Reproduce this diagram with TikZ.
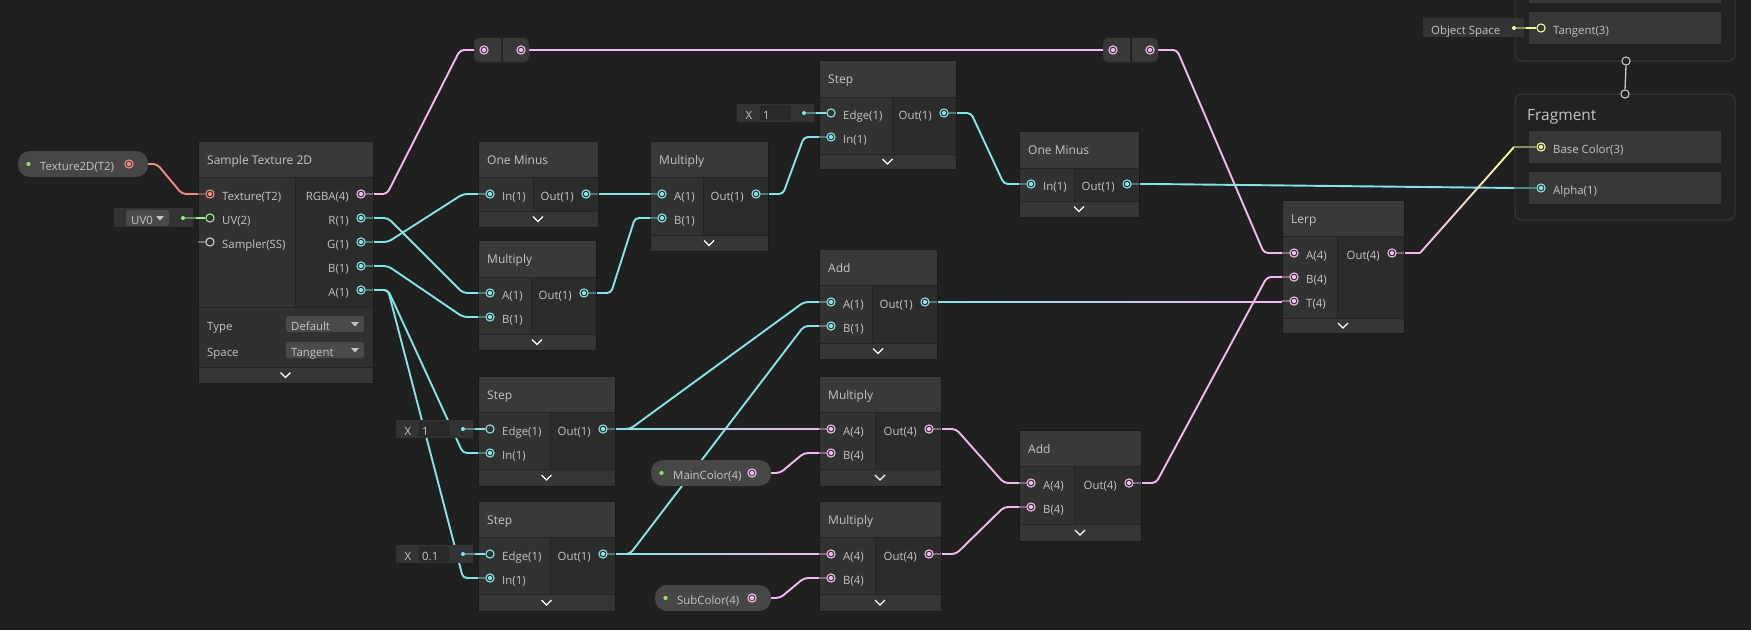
\documentclass[tikz,border=0pt]{standalone}
\usepackage{fontspec}
\setmainfont{Open Sans}
\usetikzlibrary{calc}
\pgfdeclarelayer{back}
\pgfdeclarelayer{wires}
\pgfsetlayers{back,wires,main}
\definecolor{bg}{HTML}{202020}
\definecolor{hdr}{HTML}{393939}
\definecolor{incol}{HTML}{323232}
\definecolor{outcol}{HTML}{2C2C2C}
\definecolor{lowcol}{HTML}{303030}
\definecolor{ftr}{HTML}{363636}
\definecolor{divc}{HTML}{242424}
\definecolor{framec}{HTML}{1A1A1A}
\definecolor{txt}{HTML}{C4C4C4}
\definecolor{cy}{HTML}{84E4E7}
\definecolor{pk}{HTML}{F4B9EE}
\definecolor{rd}{HTML}{F28A86}
\definecolor{gn}{HTML}{9CEB8C}
\definecolor{yl}{HTML}{F4FB9C}
\definecolor{smp}{HTML}{D0D0D0}
\definecolor{pillc}{HTML}{474747}
\definecolor{widc}{HTML}{333333}
\definecolor{fieldc}{HTML}{2A2A2A}
\definecolor{ddc}{HTML}{4A4A4A}
\definecolor{dotg}{HTML}{8FE35F}
\definecolor{blk}{HTML}{222222}
\definecolor{blkb}{HTML}{3A3A3A}
\definecolor{rowc}{HTML}{383838}
\definecolor{conc}{HTML}{C8C8C8}

\tikzset{
  lbl/.style={inner sep=0pt, text=txt, font=\fontsize{11.4}{13}\selectfont, text height=12pt, text depth=0pt},
  ttl/.style={inner sep=0pt, text=txt, font=\fontsize{12}{14}\selectfont, text height=10pt, text depth=0pt, anchor=west},
  ring/.style={circle, draw=#1, line width=1.1pt, minimum size=8.2pt, inner sep=0pt},
  wire/.style={line width=1.9pt, rounded corners=4pt},
  stubw/.style={line width=1.6pt},
  boxnode/.style={inner sep=0pt, outer sep=0pt},
}

% box: name, x1, y1, x2, y2, header bottom, left col x, footer top, title
\newcommand\sgbox[9]{%
  \node[boxnode, minimum width={(#4-#2)*1pt}, minimum height={(#5-#3)*1pt}] (#1) at ({(#2+#4)/2},{(#3+#5)/2}) {};
  \fill[incol] (#2,#6) rectangle (#7,#8);
  \fill[outcol] (#7,#6) rectangle (#4,#8);
  \fill[hdr] (#2,#3) rectangle (#4,#6);
  \fill[ftr] (#2,#8) rectangle (#4,#5);
  \draw[divc, line width=1pt] (#2,#6) -- (#4,#6) (#2,#8) -- (#4,#8) (#7,#6) -- (#7,#8);
  \node[ttl] at (#2+9,{(#3+#6)/2}) {#9};
  \draw[white, line width=1.3pt] ({(#2+#4)/2-5},{(#8+#5)/2-2.5}) -- ({(#2+#4)/2},{(#8+#5)/2+2.5}) -- ({(#2+#4)/2+5},{(#8+#5)/2-2.5});
  \draw[framec, line width=1pt] (#2,#3) rectangle (#4,#5);
}
% input port: name, x, y, color, filled, label
\newcommand\inp[6]{%
  \draw[stubw, #4!40!incol] (#2-12,#3) -- (#2-4,#3);
  \node[ring=#4] (#1) at (#2,#3) {};
  \ifnum#5=1 \fill[#4] (#1.center) circle (2.1pt);\fi
  \node[lbl, anchor=west] at (#2+12,#3) {#6};
}
% output port: name, x, y, color, label
\newcommand\outp[5]{%
  \draw[stubw, #4!40!outcol] (#2+4,#3) -- (#2+12,#3);
  \node[ring=#4] (#1) at (#2,#3) {};
  \fill[#4] (#1.center) circle (2.1pt);
  \node[lbl, anchor=east] at (#2-12,#3) {#5};
}
% X value widget: dot name, x1, y1, value
\newcommand\xwid[4]{%
  \fill[widc] (#2,#3) rectangle (#2+77,#3+18);
  \node[lbl, anchor=center] at (#2+12,#3+9) {X};
  \draw[fill=fieldc, draw=framec, rounded corners=2pt] (#2+23,#3+2) rectangle (#2+53,#3+16);
  \node[lbl, anchor=west] at (#2+26,#3+9) {#4};
  \node[circle, fill=cy, inner sep=0pt, minimum size=4pt] (#1) at (#2+67,#3+9) {};
}
% property pill: name, x1, y1, x2, label, port name, port x, port colour
\newcommand\pill[8]{%
  \node[boxnode, fill=pillc, rounded corners=12pt, minimum width={(#4-#2)*1pt}, minimum height=26pt] (#1) at ({(#2+#4)/2},#3+13) {};
  \fill[dotg] (#2+10.5,#3+13) circle (2.1pt);
  \node[lbl, anchor=west] at (#2+22,#3+13) {#5};
  \node[ring=#8] (#6) at (#7,#3+13) {};
  \fill[#8] (#6.center) circle (2.1pt);
}
% redirect: name, x1, in name, out name
\newcommand\redir[4]{%
  \node[boxnode, fill=hdr, rounded corners=5pt, minimum width=55pt, minimum height=24pt] (#1) at (#2+27.5,50) {};
  \draw[divc, line width=1.2pt] (#2+28,38) -- (#2+28,62);
  \node[ring=pk] (#3) at (#2+10,50) {}; \fill[pk] (#3.center) circle (2.1pt);
  \node[ring=pk] (#4) at (#2+47,50) {}; \fill[pk] (#4.center) circle (2.1pt);
}
% dropdown: name, x1, y1, x2, text
\newcommand\ddown[5]{%
  \node[boxnode, fill=ddc, rounded corners=2.5pt, minimum width={(#4-#2)*1pt}, minimum height=16pt] (#1) at ({(#2+#4)/2},#3+8) {};
  \node[lbl, anchor=west] at (#2+5,#3+8) {#5};
  \fill[txt] (#4-13,#3+6) -- (#4-5,#3+6) -- (#4-9,#3+10.5) -- cycle;
}
\newcommand\wire[3]{\draw[wire,#1] ([xshift=12pt]#2.center) -- ++(15,0) -- ([xshift=-27pt]#3.center) -- ([xshift=-12pt]#3.center);}
\newcommand\gwire[4]{\shade[left color=#1, right color=#2] ($(#3.center)+(12,-0.95)$) rectangle ($(#4.center |- #3.center)+(-12,0.95)$);}

\begin{document}
\begin{tikzpicture}[x=1pt,y=-1pt]
\begin{pgfonlayer}{back}
\fill[bg] (0,0) rectangle (1751,630);
\end{pgfonlayer}
\useasboundingbox (0,0) rectangle (1751,630);

% ---------- Vertex (partial) and Fragment blocks ----------
\node[boxnode, minimum width=220pt, minimum height=91pt] (vtx) at (1625,15.5) {};
\draw[blkb, fill=blk, rounded corners=7pt, line width=1pt] (1515,-30) rectangle (1735,61);
\fill[rowc] (1529,-30) rectangle (1721,3);
\fill[rowc] (1529,12) rectangle (1721,44);
\node[ring=yl] (tang) at (1541,28) {};
\node[lbl, anchor=west] at (1553,28) {Tangent(3)};
\fill[widc] (1423,18) rectangle (1524,37);
\node[lbl, anchor=west] at (1431,28) {Object Space};
\node[circle, fill=yl, inner sep=0pt, minimum size=4pt] (osdot) at (1514,28) {};
\draw[stubw, yl!45!widc] (osdot) -- (1526,28);
\draw[line width=1.9pt, yl] (1526,28) -- (tang.west);

\node[boxnode, minimum width=220pt, minimum height=126pt] (frag) at (1625,157) {};
\draw[blkb, fill=blk, rounded corners=7pt, line width=1pt] (1515,94) rectangle (1735,220);
\node[inner sep=0pt, text=txt, font=\fontsize{15.5}{18}\selectfont, text height=12pt, text depth=0pt, anchor=west] at (1527,114) {Fragment};
\fill[rowc] (1529,131) rectangle (1721,163);
\fill[rowc] (1529,172) rectangle (1721,204);
\node[ring=yl] (fbase) at (1541,147) {}; \fill[yl] (fbase.center) circle (2.1pt);
\node[lbl, anchor=west] at (1553,147) {Base Color(3)};
\node[ring=cy] (falpha) at (1541,188) {}; \fill[cy] (falpha.center) circle (2.1pt);
\node[lbl, anchor=west] at (1553,188) {Alpha(1)};

\node[ring=conc, fill=blk] (vout) at (1626,61) {};
\node[ring=conc, fill=blk] (fin) at (1625,94) {};
\draw[conc, line width=1.3pt] (vout.south) -- (fin.north);

% ---------- Property pills and widgets ----------
\pill{texprop}{18}{151}{148}{Texture2D(T2)}{tpp}{129}{rd}
\pill{mainc}{651}{460}{771}{MainColor(4)}{mcp}{752}{pk}
\pill{subc}{655}{585}{771}{SubColor(4)}{scp}{752}{pk}

% ---------- Sample Texture 2D ----------
\sgbox{st}{198}{141}{373}{383}{177}{295}{367}{Sample Texture 2D}
\fill[lowcol] (198.5,307) rectangle (372.5,367);
\draw[divc, line width=1pt] (198,307) -- (373,307);
\draw[framec, line width=1pt] (198,141) rectangle (373,383);
\inp{stt}{210}{194}{rd}{1}{Texture(T2)}
\inp{stuv}{210}{218}{gn}{0}{UV(2)}
\inp{sts}{210}{242}{smp}{0}{Sampler(SS)}
\outp{strgba}{361}{194}{pk}{RGBA(4)}
\outp{str}{361}{218}{cy}{R(1)}
\outp{stg}{361}{242}{cy}{G(1)}
\outp{stb}{361}{266}{cy}{B(1)}
\outp{sta}{361}{290}{cy}{A(1)}
\node[lbl, anchor=west] at (207,324) {Type};
\node[lbl, anchor=west] at (207,350) {Space};
\ddown{ddtype}{286}{316}{364}{Default}
\ddown{ddspace}{286}{342}{364}{Tangent}

% UV0 widget
\fill[widc] (114,208) rectangle (193,227);
\ddown{dduv}{126}{210}{169}{UV0}
\node[circle, fill=gn, inner sep=0pt, minimum size=4pt] (uvdot) at (183,218) {};
\draw[stubw, gn!45!widc] (uvdot) -- (196,218);
\draw[line width=1.9pt, gn] (196,218) -- (stuv.west);

% ---------- Redirects ----------
\redir{rd1}{474}{rd1i}{rd1o}
\redir{rd2}{1103}{rd2i}{rd2o}

% ---------- Upper chain ----------
\sgbox{om1}{478}{141}{598}{227}{177}{533}{211}{One Minus}
\inp{om1i}{490}{194}{cy}{1}{In(1)}
\outp{om1o}{586}{194}{cy}{Out(1)}

\sgbox{mulm}{478}{240}{596}{350}{277}{531}{334}{Multiply}
\inp{mulma}{490}{293}{cy}{1}{A(1)}
\inp{mulmb}{490}{317}{cy}{1}{B(1)}
\outp{mulmo}{584}{293}{cy}{Out(1)}

\sgbox{mult}{650}{141}{768}{251}{177}{703}{235}{Multiply}
\inp{multa}{662}{194}{cy}{1}{A(1)}
\inp{multb}{662}{218}{cy}{1}{B(1)}
\outp{multo}{756}{194}{cy}{Out(1)}

\sgbox{stept}{819}{60}{956}{169}{97}{892}{154}{Step}
\inp{steptedge}{831}{113}{cy}{0}{Edge(1)}
\inp{steptin}{831}{137}{cy}{1}{In(1)}
\outp{stepto}{944}{113}{cy}{Out(1)}
\xwid{x1t}{737}{104}{1}
\draw[stubw, cy!45!widc] (x1t) -- (816,113);
\draw[line width=1.9pt, cy] (816,113) -- (steptedge.west);

\sgbox{om2}{1019}{131}{1139}{217}{168}{1074}{201}{One Minus}
\inp{om2i}{1031}{184}{cy}{1}{In(1)}
\outp{om2o}{1127}{184}{cy}{Out(1)}

\sgbox{addt}{819}{249}{937}{359}{285}{872}{343}{Add}
\inp{addta}{831}{302}{cy}{1}{A(1)}
\inp{addtb}{831}{326}{cy}{1}{B(1)}
\outp{addto}{925}{302}{cy}{Out(1)}

% ---------- Lower chain ----------
\sgbox{stepm}{478}{376}{615}{486}{412}{550}{469}{Step}
\inp{stepmedge}{490}{429}{cy}{0}{Edge(1)}
\inp{stepmin}{490}{453}{cy}{1}{In(1)}
\outp{stepmo}{603}{429}{cy}{Out(1)}
\xwid{x1m}{396}{420}{1}
\draw[stubw, cy!45!widc] (x1m) -- (475,429);
\draw[line width=1.9pt, cy] (475,429) -- (stepmedge.west);

\sgbox{stepb}{478}{501}{615}{611}{537}{550}{594}{Step}
\inp{stepbedge}{490}{554}{cy}{0}{Edge(1)}
\inp{stepbin}{490}{578}{cy}{1}{In(1)}
\outp{stepbo}{603}{554}{cy}{Out(1)}
\xwid{x01}{396}{545}{0.1}
\draw[stubw, cy!45!widc] (x01) -- (475,554);
\draw[line width=1.9pt, cy] (475,554) -- (stepbedge.west);

\sgbox{mulp1}{819}{376}{941}{486}{412}{875}{469}{Multiply}
\inp{mulp1a}{831}{429}{pk}{1}{A(4)}
\inp{mulp1b}{831}{453}{pk}{1}{B(4)}
\outp{mulp1o}{929}{429}{pk}{Out(4)}

\sgbox{mulp2}{819}{501}{941}{611}{537}{875}{594}{Multiply}
\inp{mulp2a}{831}{554}{pk}{1}{A(4)}
\inp{mulp2b}{831}{578}{pk}{1}{B(4)}
\outp{mulp2o}{929}{554}{pk}{Out(4)}

\sgbox{addb}{1019}{430}{1141}{541}{466}{1074}{524}{Add}
\inp{addba}{1031}{483}{pk}{1}{A(4)}
\inp{addbb}{1031}{507}{pk}{1}{B(4)}
\outp{addbo}{1129}{483}{pk}{Out(4)}

\sgbox{lerp}{1282}{200}{1404}{333}{236}{1337}{318}{Lerp}
\inp{lerpa}{1294}{253}{pk}{1}{A(4)}
\inp{lerpb}{1294}{277}{pk}{1}{B(4)}
\inp{lerpt}{1294}{301}{pk}{1}{T(4)}
\outp{lerpo}{1392}{253}{pk}{Out(4)}

% ---------- Wires ----------
\begin{pgfonlayer}{wires}
\draw[wire,rd] ([xshift=19pt]tpp.center) -- ++(9,0) -- ([xshift=-28pt]stt.center) -- ([xshift=-12pt]stt.center);
\draw[wire,pk] ([xshift=12pt]strgba.center) -- ++(14,0) -- ([xshift=-24pt]rd1i.center) -- ([xshift=-10pt]rd1i.center);
\draw[wire,pk] ([xshift=8pt]rd1o.center) -- ([xshift=-10pt]rd2i.center);
\draw[wire,pk] ([xshift=8pt]rd2o.center) -- ++(19,0) -- ([xshift=-30pt]lerpa.center) -- ([xshift=-12pt]lerpa.center);
\wire{cy}{str}{mulma}
\wire{cy}{stg}{om1i}
\wire{cy}{stb}{mulmb}
\wire{cy}{sta}{stepmin}
\wire{cy}{sta}{stepbin}
\wire{cy}{om1o}{multa}
\wire{cy}{mulmo}{multb}
\wire{cy}{multo}{steptin}
\wire{cy}{stepto}{om2i}
\wire{cy}{stepmo}{addta}
\wire{cy}{stepbo}{addtb}
\gwire{cy}{pk}{stepmo}{mulp1a}
\gwire{cy}{pk}{stepbo}{mulp2a}
\gwire{cy}{pk}{addto}{lerpt}
\draw[wire,pk] ([xshift=19pt]mcp.center) -- ++(9,0) -- ([xshift=-27pt]mulp1b.center) -- ([xshift=-12pt]mulp1b.center);
\draw[wire,pk] ([xshift=19pt]scp.center) -- ++(9,0) -- ([xshift=-27pt]mulp2b.center) -- ([xshift=-12pt]mulp2b.center);
\wire{pk}{mulp1o}{addba}
\wire{pk}{mulp2o}{addbb}
\wire{pk}{addbo}{lerpb}
% alpha
\draw[wire,cy] ([xshift=12pt]om2o.center) -- ++(15,0) -- ([xshift=-27pt]falpha.center);
% lerp out to base colour
\coordinate (lo1) at ($(lerpo.center)+(28,0)$);
\coordinate (lo2) at ($(fbase.center)+(-27,0)$);
\draw[wire,pk] ([xshift=12pt]lerpo.center) -- (lo1);
\foreach \i in {0,...,15}{
  \pgfmathsetmacro\ta{\i/16}
  \pgfmathsetmacro\tb{(\i+1)/16}
  \pgfmathtruncatemacro\pc{\i*100/15}
  \draw[line width=1.9pt, line cap=round, yl!\pc!pk] ($(lo1)!\ta!(lo2)$) -- ($(lo1)!\tb!(lo2)$);
}
\end{pgfonlayer}
% stubs inside fragment rows
\draw[stubw, yl!50!blk] (lo2) -- ([xshift=-4pt]fbase.center);
\draw[stubw, cy!50!blk] ([xshift=-27pt]falpha.center) -- ([xshift=-4pt]falpha.center);
\end{tikzpicture}
\end{document}
